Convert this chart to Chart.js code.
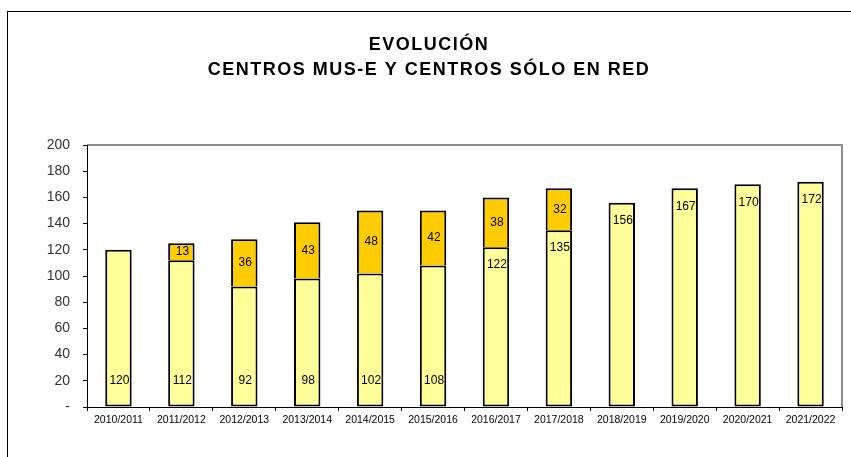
<!DOCTYPE html>
<html>
<head>
<meta charset="utf-8">
<script src="https://cdn.jsdelivr.net/npm/chart.js@4.4.1/dist/chart.umd.min.js"></script>
<style>
html,body{margin:0;padding:0;background:#fff;overflow:hidden;}
#wrap{position:relative;width:851px;height:457px;}
</style>
</head>
<body>
<div id="wrap"><canvas id="c" width="851" height="457"></canvas></div>
<script>
const titleLines = ['EVOLUCIÓN', 'CENTROS MUS-E Y CENTROS SÓLO EN RED'];
const categories = ['2010/2011','2011/2012','2012/2013','2013/2014','2014/2015','2015/2016','2016/2017','2017/2018','2018/2019','2019/2020','2020/2021','2021/2022'];
const centrosMusE = [120,112,92,98,102,108,122,135,156,167,170,172];
const centrosSoloRed = [null,13,36,43,48,42,38,32,null,null,null,null];
const yTicks = [0,20,40,60,80,100,120,140,160,180,200];
// label placement style for lower series (Excel-like): 'base' near the axis, 'end' near the top
const lowerLabelPlacement = ['base','base','base','base','base','base','end','end','end','end','end','end'];

const FONT = '"Liberation Sans", Arial, sans-serif';

const framePlugin = {
  id: 'frame',
  beforeDraw(chart) {
    const ctx = chart.ctx, a = chart.chartArea;
    ctx.save();
    ctx.fillStyle = '#fff';
    ctx.fillRect(0, 0, chart.width, chart.height);
    ctx.strokeStyle = '#000';
    ctx.lineWidth = 1;
    ctx.strokeRect(7.5, 11.5, 1000, 1000);
    ctx.strokeStyle = '#8c8c8c';
    ctx.lineWidth = 2;
    ctx.beginPath();
    ctx.moveTo(a.left, a.top);
    ctx.lineTo(a.right, a.top);
    ctx.lineTo(a.right, a.bottom);
    ctx.stroke();
    // title
    ctx.fillStyle = '#000';
    ctx.font = 'bold 18px ' + FONT;
    ctx.textAlign = 'center';
    ctx.textBaseline = 'middle';
    try { ctx.letterSpacing = '1.5px'; } catch (e) {}
    ctx.fillText(titleLines[0], 429, 45);
    ctx.fillText(titleLines[1], 429, 70);
    ctx.restore();
  },
  afterDatasetsDraw(chart) {
    const ctx = chart.ctx;
    const y = chart.scales.y;
    ctx.save();
    ctx.fillStyle = '#000';
    ctx.font = '12px ' + FONT;
    ctx.textAlign = 'center';
    ctx.textBaseline = 'middle';
    const m0 = chart.getDatasetMeta(0), m1 = chart.getDatasetMeta(1);
    centrosMusE.forEach((v, i) => {
      if (v == null) return;
      const bar = m0.data[i];
      let ly;
      if (lowerLabelPlacement[i] === 'base') ly = y.getPixelForValue(0) - 26;
      else ly = y.getPixelForValue(v) + 18;
      ctx.fillText(String(v), bar.x + 1, ly);
    });
    centrosSoloRed.forEach((v, i) => {
      if (v == null) return;
      const bar = m1.data[i];
      ctx.fillText(String(v), bar.x + 1, (bar.y + bar.base) / 2);
    });
    ctx.restore();
  }
};

new Chart(document.getElementById('c'), {
  type: 'bar',
  data: {
    labels: categories,
    datasets: [
      { label: 'Centros MUS-E', data: centrosMusE, backgroundColor: '#FFFF99', borderColor: '#000', borderWidth: 2, borderSkipped: false },
      { label: 'Centros sólo en red', data: centrosSoloRed, backgroundColor: '#FFCC00', borderColor: '#000', borderWidth: 2, borderSkipped: 'start' }
    ]
  },
  options: {
    responsive: false,
    animation: false,
    devicePixelRatio: 1,
    layout: { padding: { left: 0, right: 9, top: 145, bottom: 0 } },
    plugins: { legend: { display: false }, title: { display: false }, tooltip: { enabled: false } },
    datasets: { bar: { categoryPercentage: 1, barPercentage: 0.42 } },
    scales: {
      x: {
        stacked: true,
        grid: { display: true, drawOnChartArea: false, drawTicks: true, tickLength: 4, color: '#000', offset: true },
        border: { display: true, color: '#000', width: 1 },
        ticks: { color: '#000', font: { family: FONT, size: 10.5 }, padding: 3, maxRotation: 0, autoSkip: false },
        afterFit(s) { s.height = 50; }
      },
      y: {
        stacked: true,
        min: 0, max: 200,
        afterBuildTicks(s) { s.ticks = yTicks.map(v => ({ value: v })); },
        grid: { display: true, drawOnChartArea: false, drawTicks: true, tickLength: 4, color: '#000' },
        border: { display: true, color: '#000', width: 1 },
        ticks: { color: '#333', font: { family: FONT, size: 14 }, padding: 13, callback: v => v === 0 ? '-' : String(v) },
        afterFit(s) { s.width = 87; }
      }
    }
  },
  plugins: [framePlugin]
});
</script>
</body>
</html>
